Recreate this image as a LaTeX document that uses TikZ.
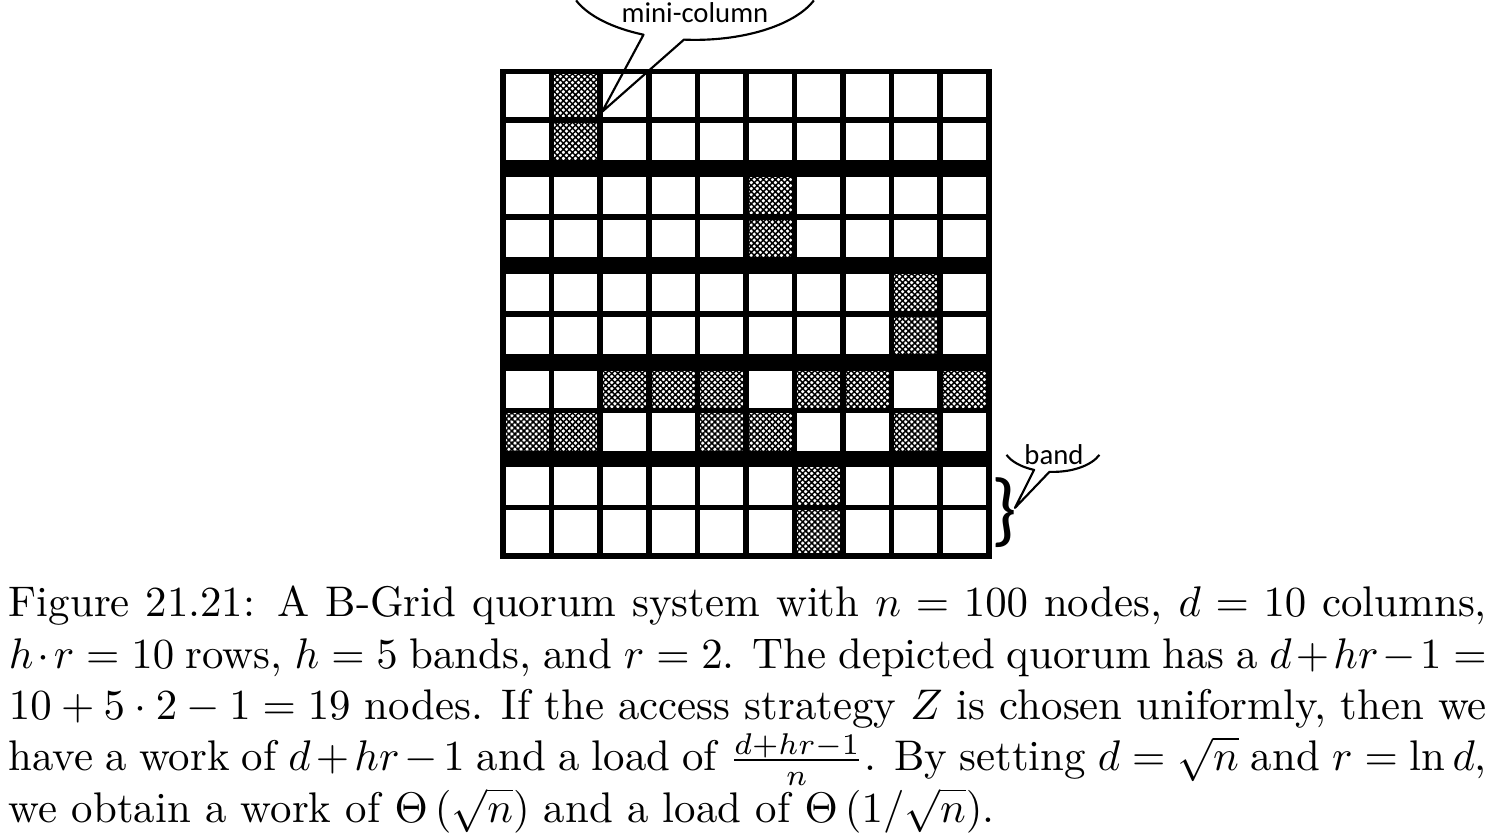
\documentclass[tikz,border=0pt]{standalone}
\usepackage{fontspec}
\newfontfamily\calloutfont{Carlito}
\usetikzlibrary{patterns.meta,calc}

\tikzset{
  cellrule/.style={line width=1.3pt},
  bandrule/.style={line width=3.9pt},
  quorum/.style={pattern={Hatch[angle=45,distance=1pt,line width=0.35pt]}},
  callout/.style={line width=0.5pt, line join=round},
  calloutlabel/.style={font=\calloutfont\fontsize{6.7}{8}\selectfont, inner sep=0pt}
}

\begin{document}
\begin{tikzpicture}
\useasboundingbox (-4.127,-2.330) rectangle (8.114,4.561);
\begin{scope}[x=0.3986cm, y=0.3973cm]
  % cells of the depicted quorum (column, row from below)
  \def\quorumcells{1/9, 1/8, 5/7, 5/6, 8/5, 8/4, 2/3, 3/3, 4/3, 6/3, 7/3, 9/3,
  0/2, 1/2, 4/2, 5/2, 8/2, 6/1, 6/0}
  \foreach \i/\j in \quorumcells
  {  \fill[quorum] (\i,\j) rectangle ++(1,1);
  }
  \foreach \i in {1,...,9}
  {  \draw[cellrule] (\i,0) -- (\i,10);
  }
  \foreach \j in {1,3,5,7,9}
  {  \draw[cellrule] (0,\j) -- (10,\j);
  }
  % band borders
  \foreach \j in {2,4,6,8}
  {  \draw[bandrule] (0,\j) -- (10,\j);
  }
  \draw[cellrule] (0,0) rectangle (10,10);
\end{scope}

% mini-column callout
\coordinate (minitip) at (0.812,3.643);
\coordinate (minic) at (1.575,4.726);
\draw[callout] (minic) ++(200:1.038 and 0.492)
  arc[start angle=200, end angle=246, x radius=1.038, y radius=0.492]
  -- (minitip) -- ($(minic)+(265:1.038 and 0.492)$)
  arc[start angle=265, end angle=340, x radius=1.038, y radius=0.492];
\node[calloutlabel, anchor=base] (minilabel) at (1.575,4.373) {mini-column};

% band callout
\node[font=\calloutfont\fontsize{19}{19}\selectfont, inner sep=0pt] (bandbrace) at (4.110,0.355) {\}};
\coordinate (bandtip) at (4.200,0.394);
\coordinate (bandc) at (4.512,0.911);
\draw[callout] (bandc) ++(201.7:0.410 and 0.2215)
  arc[start angle=201.7, end angle=247.8, x radius=0.410, y radius=0.2215]
  -- (bandtip) -- ($(bandc)+(266:0.410 and 0.2215)$)
  arc[start angle=266, end angle=338.3, x radius=0.410, y radius=0.2215];
\node[calloutlabel, anchor=base] (bandlabel) at (4.520,0.752) {band};

\node[anchor=north west, inner sep=0pt, text width=345pt, align=justify] (caption) at (-4.061,-0.24)
{Figure 21.21: A B-Grid quorum system with $n = 100$ nodes, $d = 10$ columns,
$h\cdot r = 10$ rows, $h = 5$ bands, and $r = 2$. The depicted quorum has a $d+hr-1 =
10 + 5\cdot 2 - 1 = 19$ nodes. If the access strategy $Z$ is chosen uniformly, then we
have a work of $d+hr-1$ and a load of $\frac{d+hr-1}{n}$. By setting $d = \sqrt{n}$ and $r = \ln d$,
we obtain a work of $\Theta\left(\sqrt{n}\right)$ and a load of $\Theta\left(1/\sqrt{n}\right)$.};
\end{tikzpicture}
\end{document}
